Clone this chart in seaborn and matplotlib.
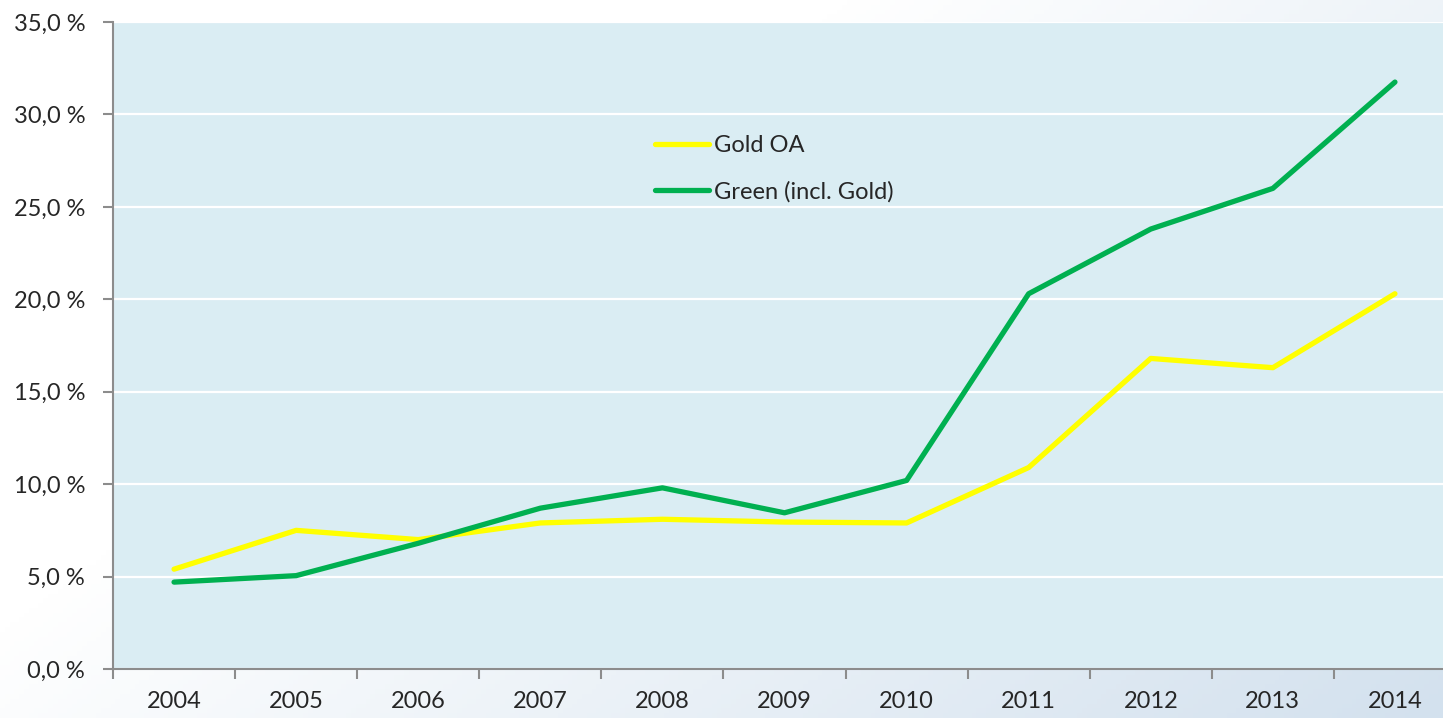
import numpy as np
import pandas as pd
import matplotlib.pyplot as plt
import seaborn as sns
from matplotlib.colors import LinearSegmentedColormap
from matplotlib.ticker import FuncFormatter, FixedLocator

years = ['2004', '2005', '2006', '2007', '2008', '2009', '2010', '2011', '2012', '2013', '2014']
gold_oa = [5.4, 7.5, 7.0, 7.9, 8.1, 7.95, 7.9, 10.9, 16.8, 16.3, 20.3]
green_incl_gold = [4.7, 5.05, 6.8, 8.7, 9.8, 8.45, 10.2, 20.3, 23.8, 26.0, 31.75]
series_names = ['Gold OA', 'Green (incl. Gold)']
series_colors = ['#FFFF00', '#00B050']

df = pd.DataFrame({
    'Year': years * 2,
    'Share': gold_oa + green_incl_gold,
    'Series': [series_names[0]] * len(years) + [series_names[1]] * len(years),
})

sns.set_style('white')
plt.rcParams['font.family'] = ['Lato', 'DejaVu Sans']

fig = plt.figure(figsize=(14.43, 7.18), dpi=100)

# soft gradient behind everything (white top-left to pale blue bottom-right)
bg = fig.add_axes([0, 0, 1, 1], zorder=-10)
gx, gy = np.meshgrid(np.linspace(0, 1, 300), np.linspace(0, 1, 150))
grad = np.clip((gx * 0.6 + gy * 0.4 - 0.35) / 0.65, 0, 1)
cmap = LinearSegmentedColormap.from_list('bgc', ['#FFFFFF', '#D3E1EE'])
bg.imshow(grad, cmap=cmap, aspect='auto', extent=[0, 1, 0, 1], origin='upper')
bg.axis('off')

W, H = 1443, 718
left, right, top, bottom = 113, 1456, 22, 669
ax = fig.add_axes([left / W, 1 - bottom / H, (right - left) / W, (bottom - top) / H])
ax.set_facecolor('#DAEDF3')

sns.lineplot(data=df, x='Year', y='Share', hue='Series', palette=series_colors,
             linewidth=3.8, ax=ax, sort=False, solid_capstyle='round')

ax.set_xlim(-0.5, len(years) - 0.5)
ax.set_ylim(0, 35)
ax.set_yticks(np.arange(0, 36, 5))
ax.yaxis.set_major_formatter(FuncFormatter(lambda v, p: f'{v:.1f} %'.replace('.', ',')))
ax.grid(axis='y', color='white', linewidth=1.6)
ax.set_axisbelow(True)

# category boundaries as tick marks, labels centered in the categories
ax.set_xticks(range(len(years)))
ax.set_xticklabels(years)
ax.xaxis.set_minor_locator(FixedLocator(np.arange(-0.5, len(years), 1.0)))
ax.tick_params(axis='x', which='major', bottom=False, length=0, pad=16, labelsize=17)
ax.tick_params(axis='x', which='minor', bottom=True, length=7, width=1.5,
               color='#8C8C8C', direction='out')
ax.tick_params(axis='y', left=True, length=7, width=1.5, color='#8C8C8C',
               direction='out', pad=13, labelsize=17)

for s in ['top', 'right']:
    ax.spines[s].set_visible(False)
for s in ['left', 'bottom']:
    ax.spines[s].set_color('#8C8C8C')
    ax.spines[s].set_linewidth(1.5)

ax.set_xlabel('')
ax.set_ylabel('')

leg = ax.legend(title=None, frameon=False, fontsize=17, loc='upper left',
                bbox_to_anchor=(655 / W, 1 - 135 / H), bbox_transform=fig.transFigure,
                handlelength=2.3, handletextpad=0.2, labelspacing=1.05, borderaxespad=0,
                borderpad=0)
for line in leg.get_lines():
    line.set_linewidth(3.8)

fig.savefig('out.png', dpi=100)
